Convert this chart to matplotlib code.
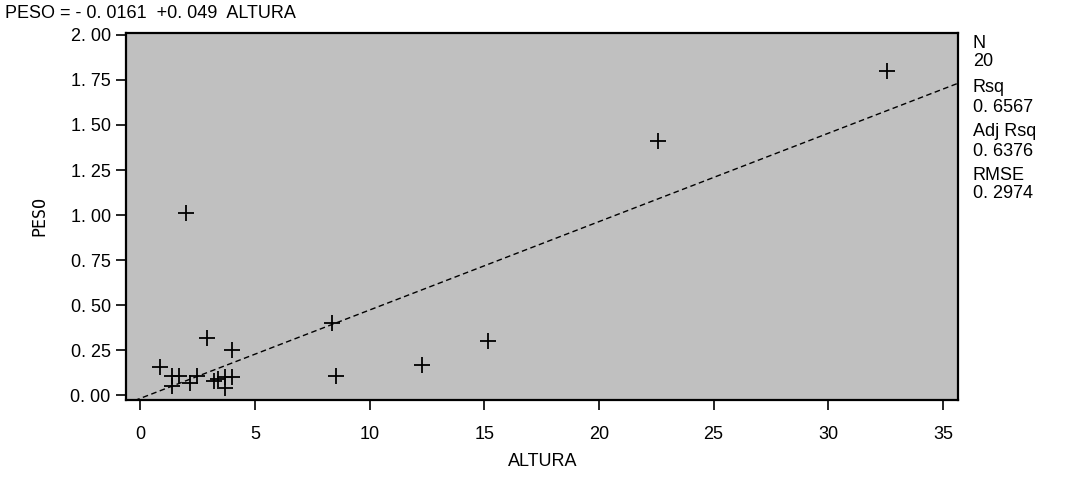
import matplotlib
matplotlib.use("Agg")
import matplotlib.pyplot as plt
import numpy as np
from matplotlib.ticker import FuncFormatter

# Data
altura = [0.87, 2.91, 4.00, 1.38, 1.38, 1.67, 2.15, 2.47, 3.20, 3.37,
          3.71, 3.71, 4.00, 8.38, 8.54, 12.28, 15.16, 22.57, 32.55, 2.00]
peso = [0.16, 0.32, 0.25, 0.11, 0.05, 0.11, 0.07, 0.11, 0.08, 0.09,
        0.04, 0.10, 0.10, 0.40, 0.11, 0.17, 0.30, 1.41, 1.80, 1.01]
intercept = -0.0161
slope = 0.049
x_ticks = [0, 5, 10, 15, 20, 25, 30, 35]
y_ticks = [0.00, 0.25, 0.50, 0.75, 1.00, 1.25, 1.50, 1.75, 2.00]
stats_labels = ["N", "20", "Rsq", "0. 6567", "Adj Rsq", "0. 6376", "RMSE", "0. 2974"]

plt.rcParams['font.family'] = ['Liberation Sans', 'DejaVu Sans']

fig = plt.figure(figsize=(10.71, 4.78), dpi=100)
ax = fig.add_axes([126/1071, 1 - 400/478, (958-126)/1071, (400-33)/478])
ax.set_facecolor('#C0C0C0')

xlim = (-0.62, 35.66)
ylim = (-0.025, 2.01)
ax.set_xlim(*xlim)
ax.set_ylim(*ylim)

# regression line across the plot
xl = np.array(xlim)
ax.plot(xl, intercept + slope * xl, color='black', lw=1.0, ls=(0, (4, 2.5)), zorder=2)

ax.scatter(altura, peso, marker='+', s=130, color='black', linewidths=1.3, zorder=3)

ax.set_xticks(x_ticks)
ax.set_yticks(y_ticks)
ax.yaxis.set_major_formatter(FuncFormatter(lambda v, p: f"{v:.2f}".replace(".", ". ")))
ax.tick_params(axis='both', direction='out', length=7, width=1.2, colors='black', labelsize=13)
ax.tick_params(axis='x', pad=12)
ax.tick_params(axis='y', pad=4)
for s in ax.spines.values():
    s.set_linewidth(1.6)
    s.set_color('black')

ax.set_ylabel("PESO", fontsize=12, family=['DejaVu Sans Mono'], labelpad=16)
fig.text(543/1071, 1 - 462/478, "ALTURA", fontsize=13, ha='center', va='center')

fig.text(5/1071, 1 - 13/478, "PESO = - 0. 0161  +0. 049  ALTURA", fontsize=13,
         ha='left', va='center')

ys = [44, 62, 88, 107, 131, 151, 175, 194]
for lab, y in zip(stats_labels, ys):
    fig.text(973/1071, 1 - y/478, lab, fontsize=13, ha='left', va='center')

fig.savefig("out.png", dpi=100)
